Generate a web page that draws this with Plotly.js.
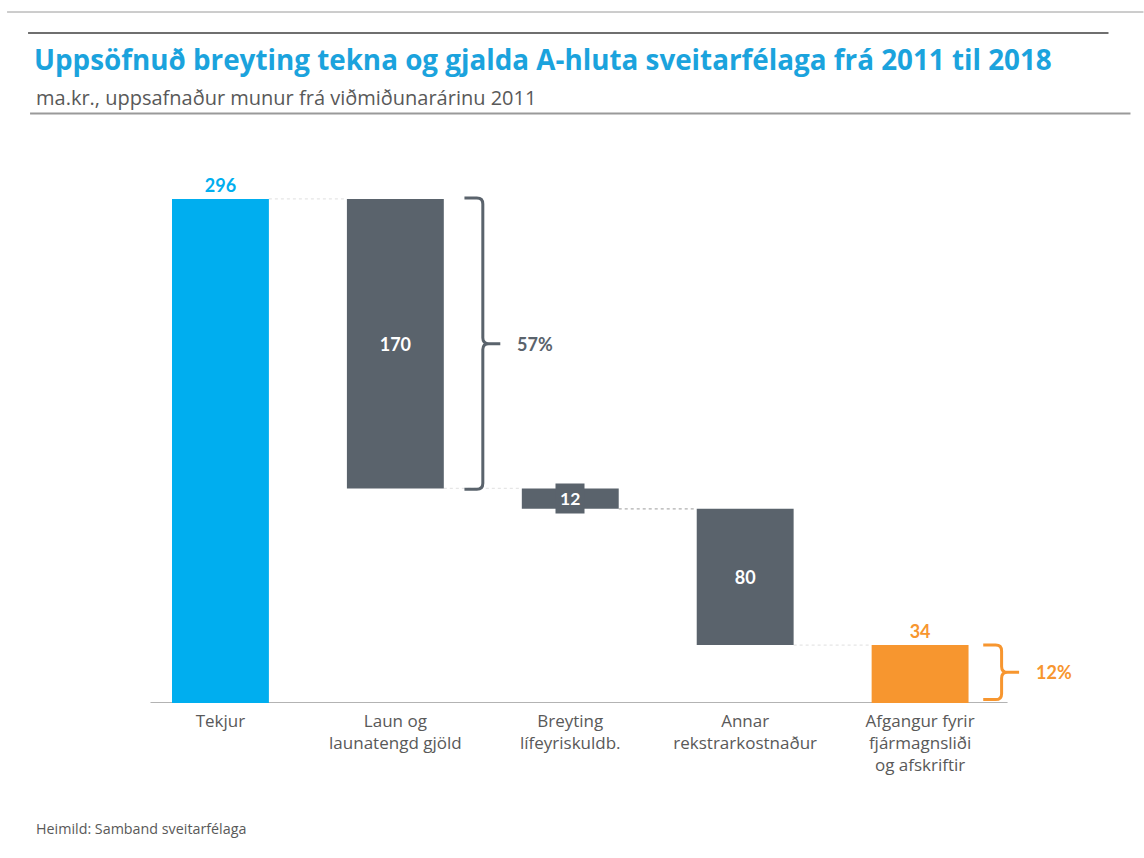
<!DOCTYPE html>
<html>
<head>
<meta charset="utf-8">
<script src="https://cdn.plot.ly/plotly-3.0.1.min.js"></script>
<style>html,body{margin:0;padding:0;background:#fff;}#chart{width:1144px;height:858px;}</style>
</head>
<body>
<div id="chart"></div>
<script>
// ---- data ----
const categories = ['Tekjur', 'Laun og<br>launatengd gjöld', 'Breyting<br>lífeyriskuldb.', 'Annar<br>rekstrarkostnaður', 'Afgangur fyrir<br>fjármagnsliði<br>og afskriftir'];
const changes = [296, -170, -12, -80, 34];
const measures = ['absolute', 'relative', 'relative', 'relative', 'total'];
const valueLabels = ['296', '170', '12', '80', '34'];
const shareLabels = ['57%', '12%'];
const titleText = 'Uppsöfnuð breyting tekna og gjalda A-hluta sveitarfélaga frá 2011 til 2018';
const subtitleText = 'ma.kr., uppsafnaður munur frá viðmiðunarárinu 2011';
const sourceText = 'Heimild: Samband sveitarfélaga';

// ---- style ----
const BLUE = '#00AEEF', GRAY = '#5A636C', ORANGE = '#F7962F', TITLE_BLUE = '#1BA3DD', TEXT_GRAY = '#595959';
const colors = [BLUE, GRAY, GRAY, GRAY, ORANGE];
const FONT = '"Open Sans", sans-serif';
const NUMFONT = 'Lato, "Open Sans", sans-serif';

// waterfall geometry from data
const xs = categories.map((_, i) => i);
const bases = [], heights = [], tops = [], bottoms = [];
let running = 0;
changes.forEach((v, i) => {
  let b, h;
  if (measures[i] === 'absolute') { b = 0; h = v; running = v; }
  else if (measures[i] === 'total') { b = 0; h = running; }
  else { const nr = running + v; b = Math.min(running, nr); h = Math.abs(v); running = nr; }
  bases.push(b); heights.push(h); bottoms.push(b); tops.push(b + h);
});

// pixel helpers for page decoration (plot area: x 133..1095.5, y 158..703)
const L = 133, R = 1095.5, T = 158, B = 703;
const px = x => (x - L) / (R - L);
const py = y => (B - y) / (B - T);

const shapes = [];
// page rules
shapes.push({type:'line', xref:'paper', yref:'paper', x0:px(7), x1:px(1144), y0:py(12), y1:py(12), line:{color:'#9a9a9a', width:1}});
shapes.push({type:'line', xref:'paper', yref:'paper', x0:px(28), x1:px(1109), y0:py(33), y1:py(33), line:{color:'#6f6f6f', width:2}});
shapes.push({type:'line', xref:'paper', yref:'paper', x0:px(30), x1:px(1131), y0:py(113.5), y1:py(113.5), line:{color:'#9a9a9a', width:2}});
// baseline
shapes.push({type:'line', xref:'x', yref:'y', x0:-0.4, x1:4.5, y0:0, y1:0, line:{color:'#9a9a9a', width:1.5}, layer:'below'});
// connectors
for (let i = 0; i < xs.length - 1; i++) {
  const level = (measures[i + 1] === 'total') ? tops[i + 1] : (changes[i + 1] < 0 ? tops[i + 1] : bottoms[i + 1]);
  shapes.push({type:'line', xref:'x', yref:'y', x0:xs[i] + 0.277, x1:xs[i + 1] - 0.277, y0:level, y1:level,
    line:{color: i === 2 ? '#b0b0b0' : '#e6e6e6', width:1.2, dash:'dot'}, layer:'below'});
}
// braces
function brace(xv, yTop, yBot, color) {
  const ym = (yTop + yBot) / 2, rx = 0.034, ry = 3.5, hook = 0.105, tip = 0.1;
  return {type:'path', xref:'x', yref:'y', line:{color:color, width:3}, fillcolor:'rgba(0,0,0,0)',
    path: `M ${xv-hook},${yTop} L ${xv-rx},${yTop} Q ${xv},${yTop} ${xv},${yTop-ry} L ${xv},${ym+ry} Q ${xv},${ym} ${xv+rx},${ym} L ${xv+tip},${ym} ` +
          `M ${xv+rx},${ym} Q ${xv},${ym} ${xv},${ym-ry} L ${xv},${yBot+ry} Q ${xv},${yBot} ${xv-rx},${yBot} L ${xv-hook},${yBot}`};
}
shapes.push(brace(xs[1] + 0.5, tops[1] + 0.5, bottoms[1] - 0.5, GRAY));
shapes.push(brace(xs[4] + 0.466, tops[4], 2, ORANGE));

const annotations = [
  {xref:'paper', yref:'paper', x:px(34), y:py(97), xanchor:'left', yanchor:'middle', showarrow:false,
   text: subtitleText, font:{family:FONT, size:20, color:TEXT_GRAY}},
  {xref:'paper', yref:'paper', x:px(34), y:py(828), xanchor:'left', yanchor:'middle', showarrow:false,
   text: sourceText, font:{family:FONT, size:14.3, color:TEXT_GRAY}},
  {xref:'x', yref:'y', x:xs[1] + 0.683, y:(tops[1] + bottoms[1]) / 2, xanchor:'left', yanchor:'middle', showarrow:false,
   text: shareLabels[0], font:{family:NUMFONT, size:18, color:GRAY, weight:'bold'}},
  {xref:'x', yref:'y', x:xs[4] + 0.654, y:(tops[4] + 2) / 2, xanchor:'left', yanchor:'middle', showarrow:false,
   text: shareLabels[1], font:{family:NUMFONT, size:18, color:ORANGE, weight:'bold'}},
  {xref:'x', yref:'y', x:xs[2], y:(tops[2] + bottoms[2]) / 2, xanchor:'center', yanchor:'middle', showarrow:false,
   text: valueLabels[2], bgcolor:GRAY, borderpad:4, font:{family:NUMFONT, size:17.5, color:'#ffffff', weight:'bold'}}
];

const trace = {
  type:'bar', x:xs, y:heights, base:bases, width:0.554,
  marker:{color:colors, line:{width:0}},
  text: valueLabels,
  textposition: ['outside', 'inside', 'none', 'inside', 'outside'],
  insidetextanchor:'middle',
  textangle:0,
  cliponaxis:false,
  textfont:{family:NUMFONT, size:18, weight:'bold', color:[BLUE, '#ffffff', '#ffffff', '#ffffff', ORANGE]},
  hoverinfo:'skip'
};

const layout = {
  width:1144, height:858,
  margin:{l:L, r:1144 - R, t:T, b:858 - B, pad:0},
  paper_bgcolor:'#ffffff', plot_bgcolor:'#ffffff',
  showlegend:false,
  title:{text:'<b>' + titleText + '</b>', xref:'container', yref:'container', x:34/1144, y:1 - 60/858,
         xanchor:'left', yanchor:'middle', font:{family:FONT, size:27.8, color:TITLE_BLUE}},
  xaxis:{range:[-0.5, 5.0], tickvals:xs, ticktext:categories, showgrid:false, zeroline:false, showline:false,
         ticks:'', ticklabelstandoff:6, tickfont:{family:FONT, size:17, color:TEXT_GRAY}, fixedrange:true},
  yaxis:{range:[0, 320], visible:false, fixedrange:true},
  shapes:shapes, annotations:annotations,
  font:{family:FONT}
};

Plotly.newPlot('chart', [trace], layout, {displayModeBar:false, staticPlot:true});
</script>
</body>
</html>
